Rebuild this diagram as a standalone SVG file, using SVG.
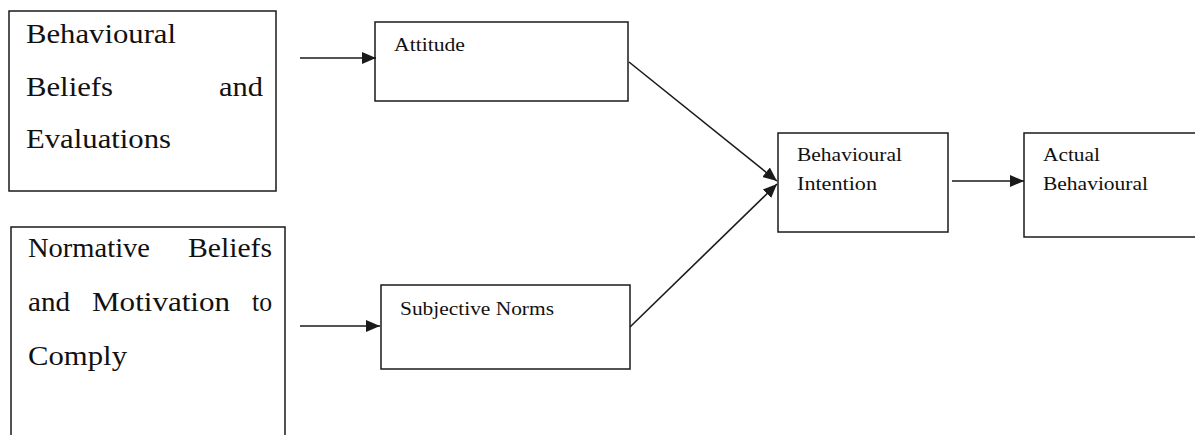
<svg xmlns="http://www.w3.org/2000/svg" width="1195" height="435" viewBox="0 0 1195 435">
  <style>
    .box { fill: #ffffff; stroke: #1a1a1a; stroke-width: 1.5; }
    .big { font-family: 'Liberation Serif', 'Times New Roman', Times, serif; font-size: 28px; fill: #111111; }
    .small { font-family: 'Liberation Serif', 'Times New Roman', Times, serif; font-size: 19px; fill: #111111; }
    .link { stroke: #1a1a1a; stroke-width: 1.6; fill: none; marker-end: url(#arrow); }
  </style>
  <defs>
    <marker id="arrow" markerUnits="userSpaceOnUse" markerWidth="16" markerHeight="16" viewBox="0 0 16 16" refX="14" refY="8" orient="auto">
      <path d="M0,2 L14,8 L0,14 Z" fill="#1a1a1a"/>
    </marker>
  </defs>
  <rect width="1195" height="435" fill="#ffffff"/>

  <g id="behavioural-beliefs">
    <rect class="box" x="9" y="11" width="267" height="180"/>
    <text class="big" x="26" y="43" textLength="150" lengthAdjust="spacingAndGlyphs">Behavioural</text>
    <text class="big" x="26" y="96" textLength="87" lengthAdjust="spacingAndGlyphs">Beliefs</text>
    <text class="big" x="219" y="96" textLength="44" lengthAdjust="spacingAndGlyphs">and</text>
    <text class="big" x="26" y="148" textLength="145" lengthAdjust="spacingAndGlyphs">Evaluations</text>
  </g>

  <g id="normative-beliefs">
    <rect class="box" x="11" y="227" width="274" height="220"/>
    <text class="big" x="28" y="257" textLength="122" lengthAdjust="spacingAndGlyphs">Normative</text>
    <text class="big" x="188" y="257" textLength="84" lengthAdjust="spacingAndGlyphs">Beliefs</text>
    <text class="big" x="28" y="311" textLength="42" lengthAdjust="spacingAndGlyphs">and</text>
    <text class="big" x="92" y="311" textLength="138" lengthAdjust="spacingAndGlyphs">Motivation</text>
    <text class="big" x="252" y="311" textLength="20" lengthAdjust="spacingAndGlyphs">to</text>
    <text class="big" x="28" y="365" textLength="99" lengthAdjust="spacingAndGlyphs">Comply</text>
  </g>

  <g id="attitude">
    <rect class="box" x="375" y="22" width="253" height="79"/>
    <text class="small" x="394" y="51" textLength="71" lengthAdjust="spacingAndGlyphs">Attitude</text>
  </g>

  <g id="subjective-norms">
    <rect class="box" x="381" y="285" width="249" height="84"/>
    <text class="small" x="400" y="315" textLength="154" lengthAdjust="spacingAndGlyphs">Subjective Norms</text>
  </g>

  <g id="behavioural-intention">
    <rect class="box" x="778" y="133" width="170" height="99"/>
    <text class="small" x="797" y="161" textLength="105" lengthAdjust="spacingAndGlyphs">Behavioural</text>
    <text class="small" x="797" y="190" textLength="80" lengthAdjust="spacingAndGlyphs">Intention</text>
  </g>

  <g id="actual-behavioural">
    <rect class="box" x="1024" y="133" width="180" height="104"/>
    <text class="small" x="1043" y="161" textLength="57" lengthAdjust="spacingAndGlyphs">Actual</text>
    <text class="small" x="1043" y="190" textLength="105" lengthAdjust="spacingAndGlyphs">Behavioural</text>
  </g>

  <g id="connectors">
    <line class="link" x1="300" y1="58" x2="376" y2="58"/>
    <line class="link" x1="300" y1="326" x2="380" y2="326"/>
    <line class="link" x1="629" y1="62" x2="777" y2="181"/>
    <line class="link" x1="630" y1="327" x2="777" y2="184"/>
    <line class="link" x1="952" y1="181" x2="1024" y2="181"/>
  </g>
</svg>
